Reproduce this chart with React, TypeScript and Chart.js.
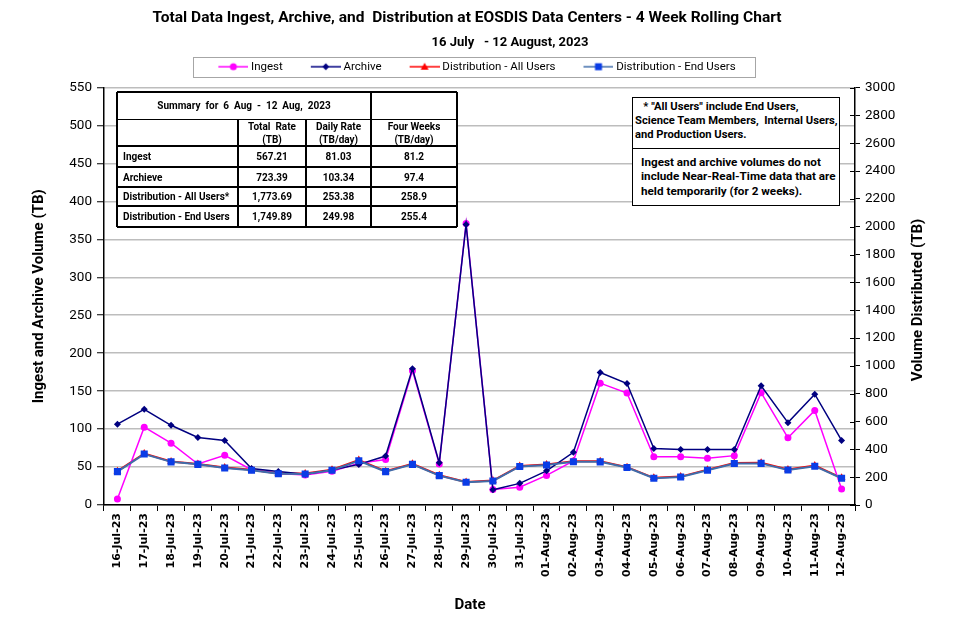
import React, { useEffect, useRef } from 'react';
import { Chart, registerables, layouts } from 'chart.js';

Chart.register(...registerables);

// ---------------- data ----------------
const categories = [
  '16-Jul-23', '17-Jul-23', '18-Jul-23', '19-Jul-23', '20-Jul-23', '21-Jul-23', '22-Jul-23',
  '23-Jul-23', '24-Jul-23', '25-Jul-23', '26-Jul-23', '27-Jul-23', '28-Jul-23', '29-Jul-23',
  '30-Jul-23', '31-Jul-23', '01-Aug-23', '02-Aug-23', '03-Aug-23', '04-Aug-23', '05-Aug-23',
  '06-Aug-23', '07-Aug-23', '08-Aug-23', '09-Aug-23', '10-Aug-23', '11-Aug-23', '12-Aug-23',
];

const ingest = [8, 102.5, 81.5, 54, 65.5, 46.5, 41.5, 39.5, 44.5, 55, 60, 177, 54, 371, 20.5, 23.5, 39, 58, 160.5, 147.5, 63.5, 63.5, 61.5, 65, 148, 88.5, 124.5, 21];
const archive = [106.5, 126, 105, 89, 85, 48, 44, 40.5, 46, 53.5, 64.5, 179.5, 55.5, 369.5, 20, 28.5, 45, 69.5, 174.5, 160, 74.5, 73, 73, 73, 157, 108.5, 146, 85];
const distAllUsers = [243, 370, 313, 295, 269, 253, 227, 226, 253, 323, 243, 296, 214, 166, 176, 280, 291, 315, 314, 272, 195, 204, 254, 302, 303, 255, 283, 195];
const distEndUsers = [240, 366, 310, 292, 266, 250, 224, 223, 250, 318, 240, 292, 211, 163, 173, 277, 288, 311, 310, 269, 192, 201, 250, 298, 299, 251, 279, 192];

const seriesNames = ['Ingest', 'Archive', 'Distribution - All Users', 'Distribution - End Users'];

const leftAxis = { min: 0, max: 550, step: 50 };
const rightAxis = { min: 0, max: 3000, step: 200 };

const titleText = 'Total Data Ingest, Archive, and  Distribution at EOSDIS Data Centers - 4 Week Rolling Chart';
const subtitleText = '16 July   - 12 August, 2023';
const leftTitle = 'Ingest and Archive Volume (TB)';
const rightTitle = 'Volume Distributed (TB)';
const xTitle = 'Date';

const summaryTitle = 'Summary  for  6  Aug  -  12  Aug,  2023';
const summaryHeaders = [['Total  Rate', '(TB)'], ['Daily Rate', '(TB/day)'], ['Four Weeks', '(TB/day)']];
const summaryLabels = ['Ingest', 'Archieve', 'Distribution - All Users*', 'Distribution - End Users'];
const summaryTotal = ['567.21', '723.39', '1,773.69', '1,749.89'];
const summaryDaily = ['81.03', '103.34', '253.38', '249.98'];
const summaryFourWeeks = ['81.2', '97.4', '258.9', '255.4'];

const note1Lines = ['   * "All Users" include End Users,', 'Science Team Members,  Internal Users,', 'and Production Users.'];
const note2Lines = ['Ingest and archive volumes do not', 'include Near-Real-Time data that are', 'held temporarily (for 2 weeks).'];

// ---------------- styles ----------------
const NARROW = "'Liberation Sans Narrow', 'Arial Narrow', Roboto, sans-serif";
const NUM = "Roboto, 'Liberation Sans', sans-serif";
const XFONT = "'DejaVu Sans', sans-serif";

const colors = {
  ingest: '#FF00FF',
  archive: '#000080',
  distAll: '#FF0000',
  distEndLine: '#3F6DAA',
  distEndPoint: '#0A3CE6',
  grid: '#BDBDBD',
};

function makeMarker(line: string, fill: string, shape: string): HTMLCanvasElement {
  const c = document.createElement('canvas');
  c.width = 52;
  c.height = 12;
  const ctx = c.getContext('2d')!;
  ctx.strokeStyle = line;
  ctx.lineWidth = 1.5;
  ctx.beginPath();
  ctx.moveTo(22, 6);
  ctx.lineTo(52, 6);
  ctx.stroke();
  ctx.fillStyle = fill;
  const cx = 37;
  const cy = 6;
  ctx.beginPath();
  if (shape === 'circle') ctx.arc(cx, cy, 3.5, 0, Math.PI * 2);
  else if (shape === 'diamond') {
    ctx.moveTo(cx, cy - 3.5); ctx.lineTo(cx + 3.5, cy); ctx.lineTo(cx, cy + 3.5); ctx.lineTo(cx - 3.5, cy); ctx.closePath();
  } else if (shape === 'triangle') {
    ctx.moveTo(cx, cy - 4); ctx.lineTo(cx + 4, cy + 3); ctx.lineTo(cx - 4, cy + 3); ctx.closePath();
  } else ctx.rect(cx - 3.5, cy - 3.5, 7, 7);
  ctx.fill();
  return c;
}

const spacerPlugin = {
  id: 'legendSpacer',
  beforeInit(chart: any) {
    const box: any = {
      position: 'top', weight: -100, fullSize: true, options: {},
      left: 0, top: 0, right: 0, bottom: 0, width: 0, height: 0,
      isHorizontal() { return true; },
      update(maxWidth: number) { box.width = maxWidth; box.height = 5; },
      draw() {},
    };
    layouts.addBox(chart, box);
  },
};

const decorPlugin = {
  id: 'decor',
  afterDraw(chart: any) {
    const ctx = chart.ctx;
    const ca = chart.chartArea;
    ctx.save();
    // titles
    ctx.fillStyle = '#000';
    ctx.textAlign = 'center';
    ctx.textBaseline = 'middle';
    ctx.font = `bold 15.5px ${NARROW}`;
    ctx.fillText(titleText, 467, 18);
    ctx.font = `bold 13px ${NARROW}`;
    ctx.fillText(subtitleText, 510, 43);
    // legend border
    const hb = chart.legend && chart.legend.legendHitBoxes;
    if (hb && hb.length) {
      const first = hb[0];
      const last = hb[hb.length - 1];
      const midY = first.top + first.height / 2;
      const x0 = Math.round(first.left - 6) + 0.5;
      const x1 = Math.round(last.left + last.width + 19) + 0.5;
      ctx.strokeStyle = '#A6A6A6';
      ctx.lineWidth = 1;
      ctx.strokeRect(x0, Math.round(midY - 10) + 0.5, x1 - x0, 20);
    }
    // inner part of right axis ticks
    const y2 = chart.scales.y2;
    ctx.strokeStyle = '#000';
    ctx.lineWidth = 1;
    ctx.beginPath();
    y2.ticks.forEach((t: any) => {
      const py = Math.round(y2.getPixelForValue(t.value)) + 0.5;
      ctx.moveTo(ca.right - 5, py);
      ctx.lineTo(ca.right, py);
    });
    ctx.stroke();
    // right axis title (reads bottom to top)
    ctx.font = `bold 15px ${NARROW}`;
    ctx.translate(918, 300);
    ctx.rotate(-Math.PI / 2);
    ctx.fillText(rightTitle, 0, 0);
    ctx.restore();
    ctx.save();
    ctx.fillStyle = '#000';
    ctx.textAlign = 'center';
    ctx.textBaseline = 'middle';
    ctx.font = `bold 15px ${NARROW}`;
    ctx.fillText(xTitle, 470, 605);
    ctx.restore();
  },
};

function SummaryTable() {
  const rowsY = [0, 27.5, 54, 75, 95, 114, 135];
  const colsX = [0, 121, 189, 254, 340];
  const lines: any[] = [];
  rowsY.forEach((y, i) => {
    const w = i === 0 ? 2.5 : i === rowsY.length - 1 ? 2 : 1.5;
    lines.push(<div key={'h' + i} style={{ position: 'absolute', left: 0, top: y - w / 2, width: 340, height: w, background: '#000' }} />);
  });
  colsX.forEach((x, i) => {
    const w = i === 0 || i === colsX.length - 1 ? 2 : 1.5;
    const y0 = i === 1 || i === 2 ? rowsY[1] : 0;
    lines.push(<div key={'v' + i} style={{ position: 'absolute', left: x - w / 2, top: y0, width: w, height: 135 - y0, background: '#000' }} />);
  });
  const cell = (key: string, x0: number, x1: number, y0: number, y1: number, content: any, align: string, extra: any = {}) => (
    <div key={key} style={{
      position: 'absolute', left: x0, top: y0, width: x1 - x0, height: y1 - y0,
      display: 'flex', flexDirection: 'column', justifyContent: 'center',
      alignItems: align === 'left' ? 'flex-start' : 'center',
      paddingLeft: align === 'left' ? 6 : 0, boxSizing: 'border-box', whiteSpace: 'pre', ...extra,
    }}>{content}</div>
  );
  const cells: any[] = [];
  cells.push(cell('t', 0, colsX[3], 0, rowsY[1], summaryTitle, 'center', { letterSpacing: 0 }));
  summaryHeaders.forEach((h, i) => {
    cells.push(cell('hd' + i, colsX[i + 1], colsX[i + 2], rowsY[1], rowsY[2],
      <>{h.map((s, k) => <div key={k}>{s}</div>)}</>, 'center', { lineHeight: '13px' }));
  });
  summaryLabels.forEach((lab, r) => {
    const y0 = rowsY[r + 2];
    const y1 = rowsY[r + 3];
    cells.push(cell('l' + r, 0, colsX[1], y0, y1, lab, 'left'));
    cells.push(cell('a' + r, colsX[1], colsX[2], y0, y1, summaryTotal[r], 'center'));
    cells.push(cell('b' + r, colsX[2], colsX[3], y0, y1, summaryDaily[r], 'center'));
    cells.push(cell('c' + r, colsX[3], colsX[4], y0, y1, summaryFourWeeks[r], 'center'));
  });
  return (
    <div style={{ position: 'absolute', left: 117, top: 92, width: 340, height: 135, background: '#fff', font: `bold 10px ${NARROW}`, color: '#000' }}>
      {cells}
      {lines}
    </div>
  );
}

function Notes() {
  const box = (top: number, height: number, lines: string[], pad: number, firstTop: number, size: number, lh: number) => (
    <div style={{
      position: 'absolute', left: 632, top, width: 208, height, boxSizing: 'border-box',
      border: '1.5px solid #000', background: '#fff', font: `bold ${size}px ${NARROW}`, color: '#000',
      paddingLeft: pad, paddingTop: firstTop, lineHeight: `${lh}px`, whiteSpace: 'pre',
    }}>
      {lines.map((l, i) => <div key={i}>{l}</div>)}
    </div>
  );
  return (
    <>
      {box(97, 52, note1Lines, 2, 2, 11.2, 14)}
      {box(148, 58, note2Lines, 8, 5.5, 11.7, 14.5)}
    </>
  );
}

export default function App() {
  const ref = useRef<HTMLCanvasElement>(null);

  useEffect(() => {
    document.body.style.margin = '0';
    const canvas = ref.current!;
    const markerImgs = [
      makeMarker(colors.ingest, colors.ingest, 'circle'),
      makeMarker(colors.archive, colors.archive, 'diamond'),
      makeMarker(colors.distAll, colors.distAll, 'triangle'),
      makeMarker(colors.distEndLine, colors.distEndPoint, 'square'),
    ];

    const chart = new Chart(canvas, {
      type: 'line',
      data: {
        labels: categories,
        datasets: [
          {
            label: seriesNames[0], data: ingest, yAxisID: 'y', order: 2,
            borderColor: colors.ingest, backgroundColor: colors.ingest, borderWidth: 1.5,
            pointStyle: 'circle', pointRadius: 3.5, pointBackgroundColor: colors.ingest, pointBorderColor: colors.ingest, pointBorderWidth: 0,
          },
          {
            label: seriesNames[1], data: archive, yAxisID: 'y', order: 1,
            borderColor: colors.archive, backgroundColor: colors.archive, borderWidth: 1.5,
            pointStyle: 'rectRot', pointRadius: 3.5, pointBackgroundColor: colors.archive, pointBorderColor: colors.archive, pointBorderWidth: 0,
          },
          {
            label: seriesNames[2], data: distAllUsers, yAxisID: 'y2', order: 3,
            borderColor: colors.distAll, backgroundColor: colors.distAll, borderWidth: 2,
            pointStyle: 'triangle', pointRadius: 4.5, pointBackgroundColor: colors.distAll, pointBorderColor: colors.distAll, pointBorderWidth: 0,
          },
          {
            label: seriesNames[3], data: distEndUsers, yAxisID: 'y2', order: 0,
            borderColor: colors.distEndLine, backgroundColor: colors.distEndPoint, borderWidth: 2,
            pointStyle: 'rect', pointRadius: 5, pointBackgroundColor: colors.distEndPoint, pointBorderColor: colors.distEndPoint, pointBorderWidth: 0,
          },
        ],
      },
      options: {
        responsive: false,
        animation: false,
        devicePixelRatio: 1,
        layout: { padding: { top: 52, left: 0, right: 20, bottom: 0 } },
        elements: { line: { tension: 0 } },
        plugins: {
          tooltip: { enabled: false },
          title: { display: false },
          legend: {
            display: true,
            position: 'top',
            labels: {
              usePointStyle: true,
              pointStyleWidth: 46,
              padding: 9,
              color: '#000',
              font: { family: NARROW, size: 11.5 },
              generateLabels: (ch: any) => ch.data.datasets.map((ds: any, i: number) => ({
                text: ds.label,
                pointStyle: markerImgs[i],
                fillStyle: 'rgba(0,0,0,0)',
                strokeStyle: 'rgba(0,0,0,0)',
                lineWidth: 0,
                hidden: false,
                datasetIndex: i,
                fontColor: '#000',
              })),
            },
          },
        },
        scales: {
          x: {
            type: 'category',
            offset: true,
            grid: { display: true, drawOnChartArea: false, offset: true, tickLength: 6, color: '#000', tickColor: '#000', tickWidth: 1 },
            border: { color: '#000', width: 1.5 },
            ticks: {
              autoSkip: false, minRotation: 90, maxRotation: 90, padding: 2, color: '#000',
              font: { family: XFONT, size: 11, weight: 'bold' },
            },
            afterFit: (s: any) => { s.height = 134; },
          },
          y: {
            type: 'linear', position: 'left', min: leftAxis.min, max: leftAxis.max,
            ticks: { stepSize: leftAxis.step, color: '#000', padding: 5, font: { family: NUM, size: 13.5 }, callback: (v: any) => String(v) },
            grid: { color: colors.grid, lineWidth: 1.5, tickColor: '#000', tickLength: 7, tickWidth: 1 },
            border: { color: '#000', width: 1.5 },
            title: {
              display: true, text: leftTitle, color: '#000',
              font: { family: NARROW, size: 15, weight: 'bold' }, padding: { top: 30, bottom: 0 },
            },
            afterFit: (s: any) => { s.width = 104; },
          },
          y2: {
            type: 'linear', position: 'right', min: rightAxis.min, max: rightAxis.max,
            ticks: { stepSize: rightAxis.step, color: '#000', padding: 5, font: { family: NUM, size: 13.5 }, callback: (v: any) => String(v) },
            grid: { drawOnChartArea: false, tickColor: '#000', color: '#000', tickLength: 5, tickWidth: 1 },
            border: { color: '#000', width: 1.5 },
            afterFit: (s: any) => { s.width = 80; },
          },
        },
      } as any,
      plugins: [spacerPlugin, decorPlugin] as any,
    });
    return () => chart.destroy();
  }, []);

  return (
    <div style={{ position: 'relative', width: 955, height: 639, background: '#fff', overflow: 'hidden' }}>
      <canvas ref={ref} width={955} height={639} style={{ position: 'absolute', left: 0, top: 0, width: 955, height: 639 }} />
      <SummaryTable />
      <Notes />
    </div>
  );
}
